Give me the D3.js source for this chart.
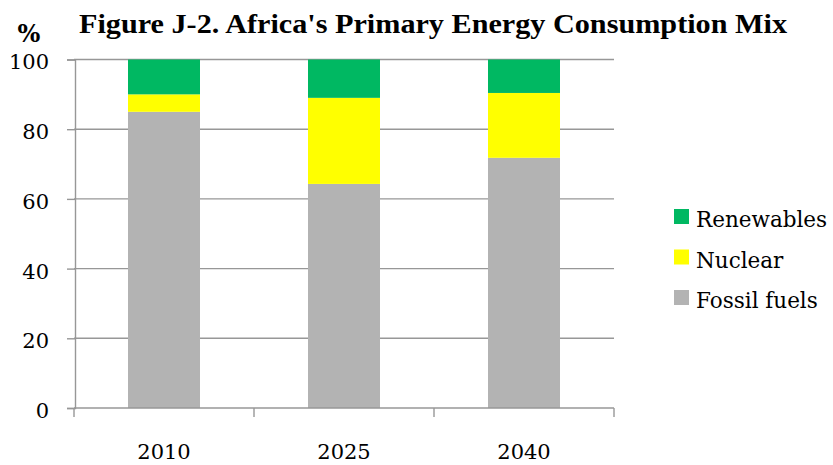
<!DOCTYPE html>
<html>
<head>
<meta charset="utf-8">
<script src="https://cdn.jsdelivr.net/npm/d3@7"></script>
<style>
  body { margin: 0; background: #fff; }
  svg text { font-family: "DejaVu Serif", serif; fill: #000; }
</style>
</head>
<body>
<svg id="chart"></svg>
<script>
// chart values
const years = ["2010", "2025", "2040"];
const seriesNames = ["Fossil fuels", "Nuclear", "Renewables"];
const fossil = [85.0, 64.3, 71.8];
const nuclear = [5.0, 24.7, 18.6];
const renewables = [10.0, 11.0, 9.6];
const yTicks = [0, 20, 40, 60, 80, 100];
const colors = { "Fossil fuels": "#b3b3b3", "Nuclear": "#ffff00", "Renewables": "#00b862" };

const width = 833, height = 465;
const margin = { top: 59.5, right: 219, bottom: 57, left: 74 };
const innerW = width - margin.left - margin.right;
const innerH = height - margin.top - margin.bottom;

const svg = d3.select("#chart")
    .attr("width", width)
    .attr("height", height);

// build rows for the stack
const rows = years.map((y, i) => ({
    year: y,
    "Fossil fuels": fossil[i],
    "Nuclear": nuclear[i],
    "Renewables": renewables[i]
}));
const stacked = d3.stack().keys(seriesNames)(rows);

const xBand = d3.scaleBand().domain(years).range([0, innerW]);
const yScale = d3.scaleLinear().domain([0, 100]).range([innerH, 0]);

const g = svg.append("g")
    .attr("transform", `translate(${margin.left},${margin.top})`);

// horizontal gridlines
g.selectAll(".grid")
    .data(yTicks.filter(d => d > 0))
    .enter().append("line")
    .attr("class", "grid")
    .attr("x1", 0)
    .attr("x2", innerW)
    .attr("y1", d => yScale(d))
    .attr("y2", d => yScale(d))
    .attr("stroke", "#979797")
    .attr("stroke-width", 1.4);

// bars
const barW = xBand.bandwidth() * 0.4;
g.selectAll(".layer")
    .data(stacked)
    .enter().append("g")
    .attr("class", "layer")
    .attr("fill", d => colors[d.key])
    .selectAll("rect")
    .data(d => d)
    .enter().append("rect")
    .attr("x", d => xBand(d.data.year) + (xBand.bandwidth() - barW) / 2)
    .attr("y", d => yScale(d[1]))
    .attr("width", barW)
    .attr("height", d => yScale(d[0]) - yScale(d[1]));

// y axis
const yAxis = d3.axisLeft(yScale).tickValues(yTicks).tickSize(8).tickPadding(18);
const yG = g.append("g").attr("transform", "translate(1,0)").call(yAxis);
yG.select(".domain").attr("stroke", "#979797").attr("stroke-width", 1.4);
yG.selectAll(".tick line").attr("stroke", "#979797").attr("stroke-width", 1.4);
yG.selectAll(".tick text")
    .style("font-family", "DejaVu Serif")
    .style("font-size", "21px")
    .attr("dy", "0.45em");

// x axis: ticks at category boundaries
const xAxisG = g.append("g").attr("transform", `translate(0,${innerH})`);
xAxisG.append("line")
    .attr("x1", 0).attr("x2", innerW)
    .attr("stroke", "#979797").attr("stroke-width", 1.4);
const bounds = d3.range(years.length + 1).map(i => i * xBand.step());
xAxisG.selectAll(".xt")
    .data(bounds)
    .enter().append("line")
    .attr("x1", d => d).attr("x2", d => d)
    .attr("y1", 0).attr("y2", 9)
    .attr("stroke", "#979797").attr("stroke-width", 1.4);
xAxisG.selectAll(".xlabel")
    .data(years)
    .enter().append("text")
    .attr("x", d => xBand(d) + xBand.bandwidth() / 2)
    .attr("y", 51)
    .attr("text-anchor", "middle")
    .style("font-size", "21px")
    .text(d => d);

// title (narrower serif, stretched to the reference width)
svg.append("text")
    .attr("x", 79)
    .attr("y", 33)
    .attr("textLength", 708)
    .attr("lengthAdjust", "spacingAndGlyphs")
    .style("font-family", "Liberation Serif")
    .style("font-size", "28px")
    .style("font-weight", "bold")
    .text("Figure J-2. Africa's Primary Energy Consumption Mix");

// unit label
svg.append("text")
    .attr("x", 29)
    .attr("y", 42)
    .attr("text-anchor", "middle")
    .style("font-size", "24px")
    .style("font-weight", "bold")
    .text("%");

// legend (top to bottom: Renewables, Nuclear, Fossil fuels)
const legend = svg.append("g").attr("transform", "translate(674,209)");
const legendItems = seriesNames.slice().reverse();
const li = legend.selectAll(".li")
    .data(legendItems)
    .enter().append("g")
    .attr("transform", (d, i) => `translate(0,${i * 40.5})`);
li.append("rect")
    .attr("width", 15).attr("height", 15)
    .attr("fill", d => colors[d]);
li.append("text")
    .attr("x", 22)
    .attr("y", 18)
    .style("font-size", "21.5px")
    .text(d => d);
</script>
</body>
</html>
